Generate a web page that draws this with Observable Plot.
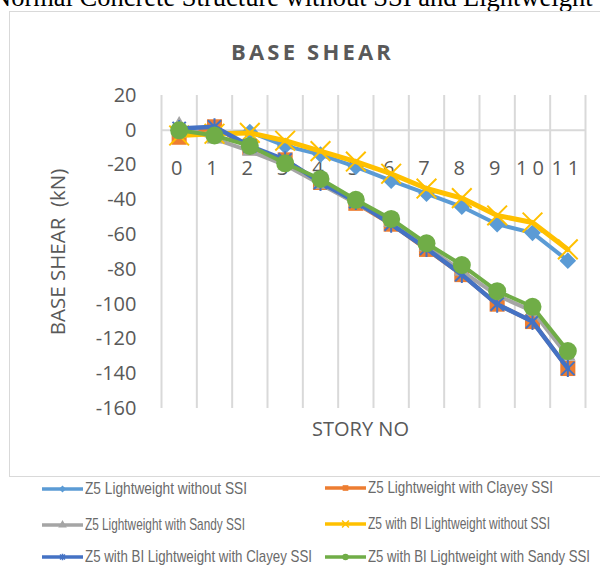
<!DOCTYPE html>
<html>
<head>
<meta charset="utf-8">
<script src="https://cdn.jsdelivr.net/npm/d3@7"></script>
<script src="https://cdn.jsdelivr.net/npm/@observablehq/plot@0.6"></script>
<style>
  body { margin: 0; background: #fff; }
  #wrap { position: relative; width: 600px; height: 567px; overflow: hidden; background: #fff; font-family: "Open Sans", sans-serif; }
  #toptext { position: absolute; left: -8px; top: -16px; font-family: "Liberation Serif", "Times New Roman", serif; font-size: 26.5px; line-height: 26.5px; white-space: nowrap; color: #000; }
  #box { position: absolute; left: 9px; top: 11px; width: 640px; height: 466px; border: 1.5px solid #d9d9d9; box-sizing: border-box; }
  #title { position: absolute; left: 0; width: 625px; top: 36px; line-height: 30px; text-align: center; font-weight: bold; font-size: 22px; letter-spacing: 3.2px; color: #595959; }
  #chart { position: absolute; left: 0; top: 0; }
  #chart svg { overflow: visible; }
  .li { position: absolute; display: flex; align-items: center; height: 20px; white-space: nowrap; }
  .li svg { flex: none; margin-right: 2px; }
  .li span { display: inline-block; transform-origin: 0 50%; font-family: "Liberation Sans", Arial, sans-serif; font-size: 17px; color: #6a6a6a; }
</style>
</head>
<body>
<div id="wrap">
  <div id="toptext">Normal Concrete Structure without SSI and Lightweight</div>
  <div id="box"></div>
  <div id="title">BASE SHEAR</div>
  <div id="chart"></div>
  <div id="legend"></div>
</div>
<script>
// ---- data ----
const stories = [0, 1, 2, 3, 4, 5, 6, 7, 8, 9, 10, 11];
const yTicks = [20, 0, -20, -40, -60, -80, -100, -120, -140, -160];
const seriesNames = [
  "Z5 Lightweight without SSI",
  "Z5 Lightweight with Clayey SSI",
  "Z5 Lightweight with Sandy SSI",
  "Z5 with BI Lightweight without SSI",
  "Z5 with BI Lightweight with Clayey SSI",
  "Z5 with BI Lightweight with Sandy SSI"
];
const lwWithoutSSI   = [0, -2, -1, -9, -14, -21, -29, -36.5, -44, -54, -59, -75];
const lwClayeySSI    = [-4, 2, -10, -17, -30, -42, -54, -68.5, -83, -100, -110, -137];
const lwSandySSI     = [3, -5, -12, -20, -31, -42, -53, -67, -81, -95, -104, -130];
const biWithoutSSI   = [-3, -2, -1.5, -6, -12, -18, -25, -33.5, -39, -49, -53, -68.5];
const biClayeySSI    = [1, 2, -9, -17, -30, -41, -54, -68, -83, -100, -110, -137];
const biSandySSI     = [0, -3, -9, -19, -28, -40, -51, -65, -77.5, -92.5, -101.5, -127];
const yTitle = "BASE SHEAR  (kN)";
const xTitle = "STORY NO";

// ---- styles ----
const starSymbol = {
  draw(ctx, size) {
    const r = Math.sqrt(size / Math.PI);
    const a = r * 0.78;
    ctx.moveTo(-a, -a); ctx.lineTo(a, a);
    ctx.moveTo(-a, a); ctx.lineTo(a, -a);
    ctx.moveTo(0, -r); ctx.lineTo(0, r);
  }
};
const allValues = [lwWithoutSSI, lwClayeySSI, lwSandySSI, biWithoutSSI, biClayeySSI, biSandySSI];
const styles = [
  {color: "#5B9BD5", lw: 4,   symbol: "diamond2", r: 7.5, filled: true},
  {color: "#ED7D31", lw: 4,   symbol: "square",   r: 8.5, filled: true},
  {color: "#A5A5A5", lw: 4,   symbol: "triangle", r: 5.8, filled: true},
  {color: "#FFC000", lw: 5,   symbol: "times",    r: 9,   filled: false, sw: 2},
  {color: "#4472C4", lw: 4.5, symbol: starSymbol, r: 8.5, filled: false, sw: 2},
  {color: "#70AD47", lw: 4,   symbol: "circle",   r: 9,   filled: true}
];
const legendTextWidth = [162, 185, 160, 182, 227, 222];

const seriesRows = allValues.map((vals, k) =>
  stories.map((s, i) => ({story: s, value: vals[i], series: seriesNames[k]})));

const bounds = stories.map(s => s - 0.5).concat([stories[stories.length - 1] + 0.5]);

const seriesMarks = [];
seriesRows.forEach((rows, k) => {
  const st = styles[k];
  seriesMarks.push(Plot.line(rows, {x: "story", y: "value", stroke: st.color, strokeWidth: st.lw, strokeLinejoin: "round", strokeLinecap: "round"}));
  seriesMarks.push(Plot.dot(rows, st.filled
    ? {x: "story", y: "value", symbol: st.symbol, r: st.r, fill: st.color, stroke: "none"}
    : {x: "story", y: "value", symbol: st.symbol, r: st.r, fill: "none", stroke: st.color, strokeWidth: st.sw}));
});

const XLABEL_FILL = "#595958";
const chart = Plot.plot({
  width: 600,
  height: 476,
  marginLeft: 161,
  marginRight: 15,
  marginTop: 95,
  marginBottom: 68,
  style: {background: "transparent", fontFamily: "Open Sans, sans-serif"},
  x: {type: "linear", domain: [bounds[0], bounds[bounds.length - 1]], axis: null},
  y: {domain: [yTicks[yTicks.length - 1], yTicks[0]], axis: null},
  marks: [
    Plot.ruleX(bounds, {x: d => d, stroke: "#d9d9d9", strokeWidth: 2}),
    Plot.ruleY([0], {stroke: "#d9d9d9", strokeWidth: 2}),
    Plot.text(yTicks, {y: d => d, frameAnchor: "left", textAnchor: "end", dx: -25, text: d => String(d), fontSize: 20, fill: "#595959"}),
    Plot.text(stories, {x: d => d, y: () => 0, dy: 38, text: d => String(d), fontSize: 20, fill: XLABEL_FILL}),
    Plot.text([yTitle], {frameAnchor: "left", textAnchor: "middle", dx: -103, rotate: -90, text: d => d, fontSize: 20.5, fill: "#595959"}),
    Plot.text([xTitle], {frameAnchor: "bottom", textAnchor: "middle", dx: -13, dy: 27, text: d => d, fontSize: 20, fill: "#595959"}),
    ...seriesMarks
  ]
});
d3.select(chart).selectAll(`g[fill="${XLABEL_FILL}"] text`).style("letter-spacing", "5px");
document.getElementById("chart").appendChild(chart);

// ---- legend ----
const legendPos = [
  {left: 42, top: 479}, {left: 325, top: 478},
  {left: 42, top: 515}, {left: 325, top: 514},
  {left: 42, top: 547}, {left: 325, top: 547}
];
const legend = document.getElementById("legend");
seriesNames.forEach((name, k) => {
  const st = styles[k];
  const item = document.createElement("div");
  item.className = "li";
  item.style.left = legendPos[k].left + "px";
  item.style.top = legendPos[k].top + "px";
  const w = 41, h = 20;
  const svg = d3.create("svg").attr("width", w).attr("height", h);
  svg.append("line").attr("x1", 0).attr("x2", w).attr("y1", h / 2).attr("y2", h / 2)
    .attr("stroke", st.color).attr("stroke-width", 3.5);
  const sym = typeof st.symbol === "string"
    ? {diamond2: d3.symbolDiamond2, square: d3.symbolSquare, triangle: d3.symbolTriangle, times: d3.symbolTimes, circle: d3.symbolCircle}[st.symbol]
    : st.symbol;
  svg.append("path").attr("transform", `translate(${w / 2},${h / 2})`)
    .attr("d", d3.symbol(sym, Math.PI * 3.2 * 3.2)())
    .attr("fill", st.filled ? st.color : "none")
    .attr("stroke", st.filled ? "none" : st.color)
    .attr("stroke-width", 1.5);
  item.appendChild(svg.node());
  const span = document.createElement("span");
  span.textContent = name;
  item.appendChild(span);
  legend.appendChild(item);
  const actual = span.getBoundingClientRect().width;
  if (actual > 0) span.style.transform = `scaleX(${legendTextWidth[k] / actual})`;
});
</script>
</body>
</html>
